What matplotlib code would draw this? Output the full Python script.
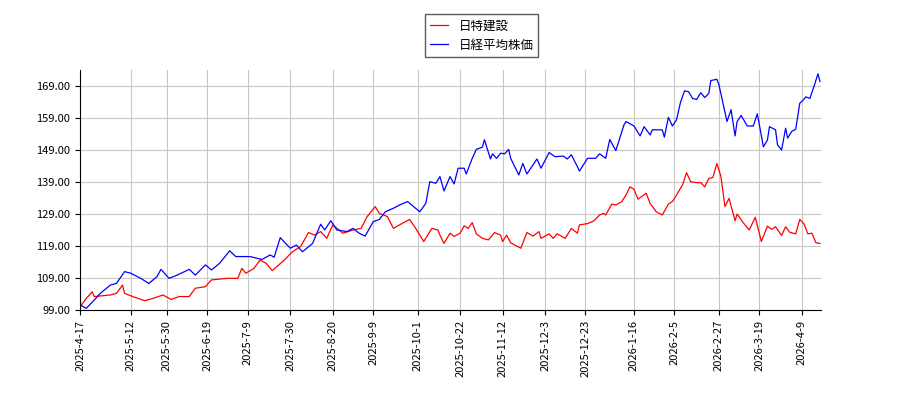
import matplotlib
matplotlib.use("Agg")
import matplotlib.pyplot as plt
import pandas as pd

plt.rcParams['font.family'] = ['Noto Sans CJK JP', 'DejaVu Sans']

start = pd.Timestamp("2025-04-17")

red_day = [0,3,6,7,15,18,21,22,26,32,36,41,45,49,54,57,62,65,73,78,80,82,86,89,92,95,101,105,109,113,116,119,122,125,130,135,139,142,146,148,152,155,158,163,166,170,174,177,
           178,180,183,185,188,190,192,194,196,199,202,205,208,209,211,213,218,221,224,227,228,232,234,236,240,243,246,247,251,254,257,259,260,263,265,268,270,272,274,276,280,282,285,288,291,293,295,298,300,302,305,307,309,311,313,315,317,319,321,324,325,328,331,334,337,340,342,344,347,349,351,354,356,358,360,362,364,366]
red_val = [100,102.6,104.7,103.2,103.7,104.2,106.8,104.2,103.2,101.9,102.6,103.7,102.3,103.2,103.2,105.8,106.3,108.4,108.9,108.9,112,110.5,112,114.6,113.6,111.3,114.6,117.2,118.8,123.2,122.4,123.5,121.4,125.6,123,124,124.5,128.2,131.3,129.2,128.2,124.5,125.6,127.3,124.5,120.4,124.5,124,
           122.4,119.8,123,122,123,125.3,124.5,126.3,122.8,121.4,120.9,123.2,122.4,120.4,122.4,120,118.3,123.2,122.1,123.5,121.4,122.8,121.4,122.8,121.4,124.5,123,125.6,126,126.8,128.7,129.2,128.7,132.1,131.8,132.9,134.9,137.5,136.7,133.6,135.5,132.3,129.7,128.7,132.1,132.9,134.9,138.1,141.9,139.1,138.8,138.8,137.5,140.1,140.4,144.8,140.7,131.3,133.9,126.9,129,126.3,124,128,120.4,125.2,124.2,125,122.3,125,123.3,122.8,127.3,126,122.8,123,120,119.8]

blue_day = [0,3,7,10,15,18,22,25,30,34,38,40,44,48,54,57,62,65,69,74,77,84,90,94,96,99,104,107,110,115,119,121,124,127,132,135,138,141,145,148,151,155,158,162,165,168,171,173,176,
            178,180,183,185,187,190,191,194,196,199,200,203,204,206,208,210,212,213,217,219,221,226,228,232,235,239,241,243,246,247,251,255,257,260,262,265,269,270,274,277,279,282,283,288,289,291,293,295,297,299,301,303,305,307,309,311,312,315,316,318,320,321,322,324,325,327,330,333,335,338,340,341,344,345,347,349,350,352,354,356,358,359,361,363,365,366]
blue_val = [100.6,99.5,102.1,104.2,106.8,107.3,111,110.5,108.9,107.3,109.4,111.7,108.9,109.9,111.7,109.9,113.1,111.5,113.6,117.5,115.7,115.7,114.8,116.2,115.5,121.6,118.3,119.3,117.2,119.8,125.8,124,126.9,124,123.5,124.5,123,122.1,126.6,127.3,129.7,130.8,131.8,132.9,131.3,129.7,132.3,139.1,138.6,
            140.7,136.2,140.7,138.4,143.3,143.3,141.5,146.4,149.2,149.9,152.2,146.2,147.8,146.4,148,147.8,149.2,146.4,141.2,144.8,141.5,146.2,143.3,148.2,146.9,147.1,146.2,147.5,143.8,142.4,146.4,146.4,147.8,146.4,152.3,148.8,156.8,157.9,156.5,153.4,156.3,153.7,155.3,155.3,153,159.2,156.5,158.4,163.9,167.5,167.2,165.1,164.8,166.9,165.4,166.7,170.7,171.1,169.4,163.6,157.9,159.7,161.6,153.4,157.9,159.8,156.5,156.5,160.3,150,152.1,156.3,155.3,150.6,149,155.8,152.7,154.8,155.5,163.6,164.8,165.6,165.1,168.8,172.8,170.4]

tick_labels = ["2025-4-17","2025-5-12","2025-5-30","2025-6-19","2025-7-9","2025-7-30","2025-8-20","2025-9-9",
               "2025-10-1","2025-10-22","2025-11-12","2025-12-3","2025-12-23","2026-1-16","2026-2-5","2026-2-27","2026-3-19","2026-4-9"]
y_ticks = [99, 109, 119, 129, 139, 149, 159, 169]
series_names = ["日特建設", "日経平均株価"]

red_dates = [start + pd.Timedelta(days=d) for d in red_day]
blue_dates = [start + pd.Timedelta(days=d) for d in blue_day]

fig = plt.figure(figsize=(9, 4), dpi=100)
ax = fig.add_axes([0.089, 0.225, 0.823, 0.6])
ax.plot(red_dates, red_val, color='red', lw=0.9, label=series_names[0])
ax.plot(blue_dates, blue_val, color='blue', lw=0.9, label=series_names[1])
ax.set_xlim(start, start + pd.Timedelta(days=366.4))
ax.set_ylim(99, 174)
ax.set_yticks(y_ticks)
ax.set_yticklabels([f"{v:.2f}" for v in y_ticks], fontsize=8)
ax.set_xticks([pd.Timestamp(t) for t in tick_labels])
ax.set_xticklabels(tick_labels, rotation=90, fontsize=8)
ax.grid(True, color='#c8c8c8', lw=0.8)
ax.set_axisbelow(True)
for s in ['top', 'right']:
    ax.spines[s].set_visible(False)
fig.legend(loc='upper center', bbox_to_anchor=(0.535, 0.98), fontsize=9, frameon=True,
           fancybox=False, edgecolor='#333333', handlelength=1.5)
fig.savefig("out.png")
